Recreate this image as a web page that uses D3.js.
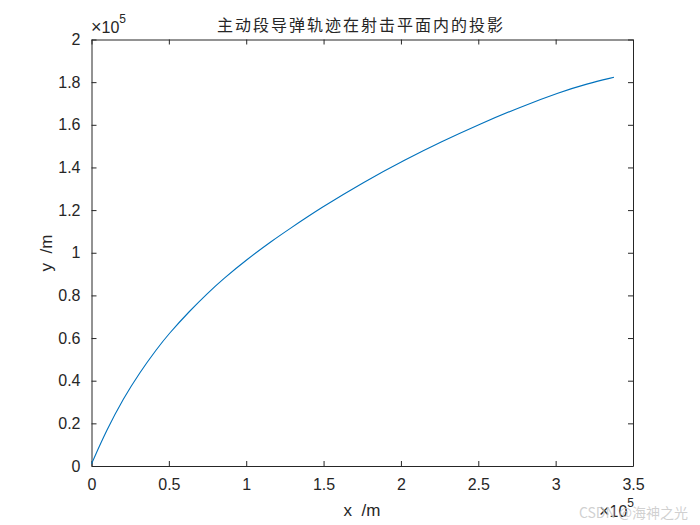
<!DOCTYPE html>
<html>
<head>
    <meta charset="utf-8">
    <title>主动段导弹轨迹</title>
    <style type="text/css">
        body { margin: 0; background: #fff; }
        svg { display: block; }
    </style>
</head>
<body>
    <svg id="chart"></svg>
    <script src="https://cdn.jsdelivr.net/npm/d3@7"></script>
    <script type="text/javascript">
        // 数据（单位 ×10^5 m）
        var trackX = [0, 0.098, 0.206, 0.313, 0.421, 0.497, 0.637, 0.744, 0.852, 1.003, 1.175,
                      1.272, 1.477, 1.757, 2.037, 2.253, 2.511, 2.770, 3.028, 3.201, 3.377]
        var trackY = [0.01, 0.169, 0.317, 0.440, 0.548, 0.618, 0.729, 0.806, 0.878, 0.968, 1.060,
                      1.108, 1.208, 1.331, 1.440, 1.518, 1.604, 1.683, 1.753, 1.792, 1.823]
        var xTicks = [0, 0.5, 1, 1.5, 2, 2.5, 3, 3.5]
        var yTicks = [0, 0.2, 0.4, 0.6, 0.8, 1, 1.2, 1.4, 1.6, 1.8, 2]
        var titleText = "主动段导弹轨迹在射击平面内的投影"
        var xLabel = "x  /m"
        var yLabel = "y  /m"

        var width = 700
        var height = 525
        // 注意：不能用 top 作变量名（与 window.top 冲突）
        var mLeft = 91.5, mRight = 633, mTop = 39.5, mBottom = 466
        var axisColor = "#262626"
        var font = "Arial, 'Liberation Sans', sans-serif"

        var svg = d3.select("#chart")
            .attr("width", width)
            .attr("height", height)
            .style("font-family", font)

        var x = d3.scaleLinear().domain([0, 3.5]).range([mLeft, mRight])
        var y = d3.scaleLinear().domain([0, 2]).range([mBottom, mTop])

        var fmt = d => d3.format("~g")(d)

        // 四边坐标轴，刻度朝内
        function styleAxis(g) {
            g.select(".domain").attr("stroke", axisColor).attr("stroke-width", 1)
            g.selectAll(".tick line").attr("stroke", axisColor)
            g.selectAll(".tick text").attr("fill", axisColor).style("font-size", "16px").style("font-family", font)
        }

        svg.append("g")
            .attr("transform", `translate(0,${mBottom})`)
            .call(d3.axisBottom(x).tickValues(xTicks).tickFormat(fmt).tickSizeInner(-5).tickSizeOuter(0).tickPadding(13))
            .call(styleAxis)

        svg.append("g")
            .attr("transform", `translate(0,${mTop})`)
            .call(d3.axisTop(x).tickValues(xTicks).tickFormat("").tickSizeInner(-5).tickSizeOuter(0))
            .call(styleAxis)

        svg.append("g")
            .attr("transform", `translate(${mLeft},0)`)
            .call(d3.axisLeft(y).tickValues(yTicks).tickFormat(fmt).tickSizeInner(-5).tickSizeOuter(0).tickPadding(11))
            .call(styleAxis)

        svg.append("g")
            .attr("transform", `translate(${mRight},0)`)
            .call(d3.axisRight(y).tickValues(yTicks).tickFormat("").tickSizeInner(-5).tickSizeOuter(0))
            .call(styleAxis)

        // 轨迹曲线
        var pts = trackX.map((d, i) => [d, trackY[i]])
        svg.append("path")
            .datum(pts)
            .attr("fill", "none")
            .attr("stroke", "#0072BD")
            .attr("stroke-width", 1.1)
            .attr("d", d3.line().x(d => x(d[0])).y(d => y(d[1])).curve(d3.curveBasis))

        // 标题
        svg.append("text")
            .attr("x", 361)
            .attr("y", 31)
            .attr("text-anchor", "middle")
            .attr("fill", axisColor)
            .style("font-family", "'Noto Sans CJK SC', sans-serif")
            .style("font-size", "16px")
            .style("letter-spacing", "2px")
            .text(titleText)

        // 坐标轴标签
        svg.append("text")
            .attr("x", 362)
            .attr("y", 516)
            .attr("text-anchor", "middle")
            .attr("fill", axisColor)
            .style("font-size", "17px")
            .style("white-space", "pre")
            .text(xLabel)

        svg.append("text")
            .attr("transform", "translate(52,253) rotate(-90)")
            .attr("text-anchor", "middle")
            .attr("fill", axisColor)
            .style("font-size", "17px")
            .style("white-space", "pre")
            .text(yLabel)

        // 指数标记 ×10^5
        function exponent(tx, ty, anchor) {
            var t = svg.append("text")
                .attr("x", tx)
                .attr("y", ty)
                .attr("text-anchor", anchor)
                .attr("fill", axisColor)
                .style("font-size", "16px")
            t.append("tspan").style("font-size", "18px").text("×")
            t.append("tspan").text("10")
            t.append("tspan").attr("dy", -10).style("font-size", "12px").text("5")
        }
        exponent(91, 33, "start")
        exponent(634, 517, "end")

        // 水印
        svg.append("text")
            .attr("x", 688)
            .attr("y", 518)
            .attr("text-anchor", "end")
            .attr("fill", "#c8c8c8")
            .attr("fill-opacity", 0.85)
            .style("font-family", "'Noto Sans CJK SC', sans-serif")
            .style("font-size", "14px")
            .text("CSDN @海神之光")
    </script>
</body>
</html>
